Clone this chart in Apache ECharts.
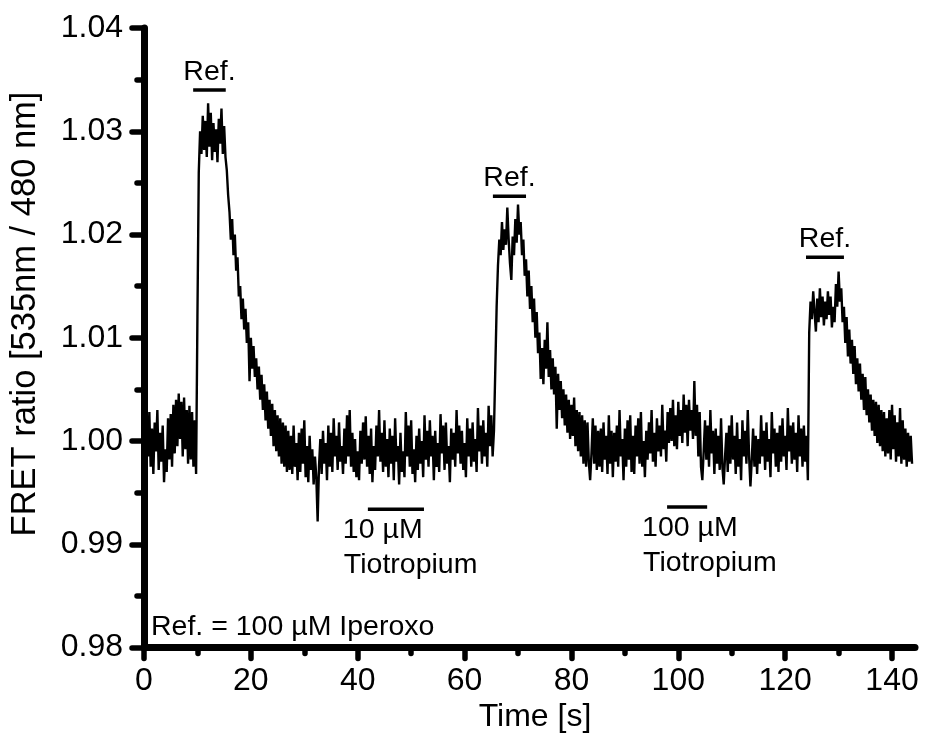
<!DOCTYPE html>
<html><head><meta charset="utf-8">
<script src="https://cdn.jsdelivr.net/npm/echarts@6/dist/echarts.min.js"></script>
<style>html,body{margin:0;padding:0;background:#fff}#c{width:925px;height:745px}</style>
</head><body><div id="c"></div>
<script>
// ---- tick values ----
const xMajorTicks = [0, 20, 40, 60, 80, 100, 120, 140];
const xMinorTicks = [10, 30, 50, 70, 90, 110, 130];

// ---- FRET ratio trace [time s, ratio] ----
const pre1 = [[0,1.0002],[0.25,0.9978],[0.5,1.0020],[0.75,0.9985],[1,1.0028],[1.25,0.9975],[1.5,1.0012],[1.75,0.9968],[2,1.0018],[2.25,0.9990],[2.5,1.0030],[2.75,0.9972],[3,1.0008],[3.25,0.9980],[3.5,1.0015],[3.75,0.9960],[4,0.9992],[4.25,0.9970],[4.5,1.0022],[4.75,0.9982],[5,1.0026],[5.25,0.9975],[5.5,1.0035],[5.75,0.9988],[6,1.0040],[6.25,0.9995],[6.5,1.0046],[6.75,1.0002],[7,1.0038],[7.25,0.9985],[7.5,1.0042],[7.75,0.9992],[8,1.0030],[8.25,0.9978],[8.5,1.0034],[8.75,0.9982],[9,1.0028],[9.25,0.9975],[9.5,1.0020],[9.75,0.9968]];
const peak1 = [[10,1.0120],[10.25,1.0260],[10.5,1.0300],[10.75,1.0278],[11,1.0315],[11.25,1.0282],[11.5,1.0310],[11.75,1.0275],[12,1.0327],[12.25,1.0285],[12.5,1.0318],[12.75,1.0272],[13,1.0308],[13.25,1.0280],[13.5,1.0302],[13.75,1.0270],[14,1.0312],[14.25,1.0288],[14.5,1.0322],[14.75,1.0278],[15,1.0305],[15.25,1.0275],[15.5,1.0262],[15.75,1.0238],[16,1.0222],[16.25,1.0195],[16.5,1.0215],[16.75,1.0180],[17,1.0200],[17.25,1.0165],[17.5,1.0178],[17.75,1.0140],[18,1.0150],[18.25,1.0118],[18.5,1.0138],[18.75,1.0108],[19,1.0128],[19.25,1.0095],[19.5,1.0115],[19.75,1.0058],[20,1.0100],[20.25,1.0070],[20.5,1.0092],[20.75,1.0062],[21,1.0080],[21.25,1.0050],[21.5,1.0072],[21.75,1.0040],[22,1.0064],[22.25,1.0030],[22.5,1.0055],[22.75,1.0020],[23,1.0048],[23.25,1.0012],[23.5,1.0040],[23.75,1.0005],[24,1.0036],[24.25,0.9995],[24.5,1.0030],[24.75,0.9990],[25,1.0025],[25.25,0.9985],[25.5,1.0022],[25.75,0.9978],[26,1.0018],[26.25,0.9975],[26.5,1.0015],[26.75,0.9970]];
const base1 = [[27,1.0010],[27.25,0.9972],[27.5,1.0005],[27.75,0.9968],[28,1.0015],[28.25,0.9975],[28.5,0.9998],[28.75,0.9962],[29,1.0008],[29.25,0.9970],[29.5,1.0012],[29.75,0.9978],[30,1.0020],[30.25,0.9965],[30.5,0.9995],[30.75,0.9960],[31,1.0005],[31.25,0.9972],[31.5,0.9992],[31.75,0.9958],[32,0.9985],[32.25,0.9965],[32.5,0.9922],[32.75,0.9975],[33,1.0002],[33.25,0.9968],[33.5,1.0010],[33.75,0.9978],[34,0.9998],[34.25,0.9962],[34.5,1.0015],[34.75,0.9975],[35,1.0008],[35.25,0.9970],[35.5,1.0022],[35.75,0.9985],[36,1.0005],[36.25,0.9972],[36.5,1.0018],[36.75,0.9980],[37,0.9995],[37.25,0.9968],[37.5,1.0012],[37.75,0.9978],[38,1.0025],[38.25,0.9985],[38.5,1.0030],[38.75,0.9975],[39,1.0008],[39.25,0.9970],[39.5,1.0002],[39.75,0.9965],[40,0.9990],[40.25,0.9962],[40.5,1.0010],[40.75,0.9978],[41,1.0018],[41.25,0.9982],[41.5,1.0024],[41.75,0.9975],[42,1.0005],[42.25,0.9968],[42.5,1.0012],[42.75,0.9960],[43,0.9995],[43.25,0.9972],[43.5,1.0015],[43.75,0.9985],[44,1.0030],[44.25,0.9980],[44.5,1.0008],[44.75,0.9970],[45,1.0020],[45.25,0.9975],[45.5,1.0002],[45.75,0.9965],[46,1.0012],[46.25,0.9978],[46.5,1.0005],[46.75,0.9962],[47,1.0022],[47.25,0.9980],[47.5,0.9995],[47.75,0.9958],[48,1.0008],[48.25,0.9970],[48.5,0.9990],[48.75,0.9965],[49,1.0028],[49.25,0.9985],[49.5,1.0015],[49.75,0.9975],[50,1.0020],[50.25,0.9968],[50.5,0.9992],[50.75,0.9960],[51,1.0005],[51.25,0.9972],[51.5,1.0012],[51.75,0.9978],[52,1.0000],[52.25,0.9965],[52.5,1.0025],[52.75,0.9982],[53,1.0010],[53.25,0.9975],[53.5,1.0020],[53.75,0.9985],[54,1.0005],[54.25,0.9962],[54.5,1.0010],[54.75,0.9975],[55,0.9998],[55.25,0.9970],[55.5,1.0026],[55.75,0.9988],[56,1.0015],[56.25,0.9972],[56.5,1.0018],[56.75,0.9978],[57,0.9995],[57.25,0.9960],[57.5,1.0012],[57.75,0.9982],[58,1.0008],[58.25,0.9975],[58.5,1.0030],[58.75,0.9988],[59,1.0015],[59.25,0.9978],[59.5,1.0010],[59.75,0.9972],[60,0.9998],[60.25,0.9965],[60.5,1.0022],[60.75,0.9985],[61,1.0012],[61.25,0.9975],[61.5,1.0018],[61.75,0.9980],[62,1.0002],[62.25,0.9970],[62.5,1.0032],[62.75,0.9990],[63,1.0015],[63.25,0.9978],[63.5,1.0020],[63.75,0.9985],[64,1.0008],[64.25,0.9975],[64.5,1.0034],[64.75,0.9995],[65,1.0025],[65.25,0.9985]];
const peak2 = [[65.5,1.0010],[65.75,1.0070],[66,1.0130],[66.25,1.0170],[66.5,1.0195],[66.75,1.0180],[67,1.0212],[67.25,1.0185],[67.5,1.0205],[67.75,1.0190],[68,1.0226],[68.25,1.0195],[68.5,1.0172],[68.75,1.0156],[69,1.0198],[69.25,1.0180],[69.5,1.0215],[69.75,1.0192],[70,1.0229],[70.25,1.0200],[70.5,1.0212],[70.75,1.0180],[71,1.0195],[71.25,1.0160],[71.5,1.0176],[71.75,1.0140],[72,1.0165],[72.25,1.0128],[72.5,1.0150],[72.75,1.0115],[73,1.0138],[73.25,1.0100],[73.5,1.0125],[73.75,1.0085],[74,1.0105],[74.25,1.0060],[74.5,1.0090],[74.75,1.0055],[75,1.0098],[75.25,1.0070],[75.5,1.0115],[75.75,1.0062],[76,1.0088],[76.25,1.0050],[76.5,1.0080],[76.75,1.0045],[77,1.0072],[77.25,1.0012],[77.5,1.0065],[77.75,1.0030],[78,1.0058],[78.25,1.0022],[78.5,1.0050],[78.75,1.0015],[79,1.0045],[79.25,1.0008],[79.5,1.0040],[79.75,1.0002],[80,1.0035],[80.25,1.0005],[80.5,1.0042],[80.75,0.9995],[81,1.0030],[81.25,0.9990],[81.5,1.0028],[81.75,0.9985],[82,1.0025],[82.25,0.9978],[82.5,1.0020],[82.75,0.9975],[83,1.0018],[83.25,0.9980],[83.5,0.9962],[83.75,0.9988],[84,1.0022],[84.25,0.9978],[84.5,1.0015],[84.75,0.9972],[85,1.0010],[85.25,0.9975]];
const base2 = [[85.5,1.0012],[85.75,0.9970],[86,1.0018],[86.25,0.9982],[86.5,1.0005],[86.75,0.9968],[87,1.0025],[87.25,0.9978],[87.5,1.0010],[87.75,0.9965],[88,1.0008],[88.25,0.9980],[88.5,1.0015],[88.75,0.9975],[89,1.0030],[89.25,0.9985],[89.5,1.0002],[89.75,0.9962],[90,1.0012],[90.25,0.9975],[90.5,1.0020],[90.75,0.9982],[91,1.0025],[91.25,0.9970],[91.5,1.0005],[91.75,0.9968],[92,1.0015],[92.25,0.9985],[92.5,1.0022],[92.75,0.9978],[93,1.0028],[93.25,0.9975],[93.5,1.0000],[93.75,0.9965],[94,1.0010],[94.25,0.9982],[94.5,1.0018],[94.75,0.9988],[95,1.0030],[95.25,0.9980],[95.5,1.0008],[95.75,0.9975],[96,1.0022],[96.25,0.9990],[96.5,1.0015],[96.75,0.9985],[97,1.0035],[97.25,0.9992],[97.5,1.0010],[97.75,0.9980],[98,1.0028],[98.25,0.9998],[98.5,1.0032],[98.75,1.0000],[99,1.0040],[99.25,0.9995],[99.5,1.0025],[99.75,0.9992],[100,1.0038],[100.25,1.0005],[100.5,1.0030],[100.75,0.9998],[101,1.0045],[101.25,1.0008],[101.5,1.0035],[101.75,0.9995],[102,1.0040],[102.25,1.0010],[102.5,1.0030],[102.75,1.0002],[103,1.0058],[103.25,1.0005],[103.5,1.0035],[103.75,0.9985],[104,1.0028],[104.25,0.9975],[104.5,0.9962],[104.75,0.9990],[105,1.0020],[105.25,0.9982],[105.5,1.0015],[105.75,0.9975],[106,1.0030],[106.25,0.9988],[106.5,1.0010],[106.75,0.9968],[107,1.0012],[107.25,0.9978],[107.5,1.0005],[107.75,0.9972],[108,1.0022],[108.25,0.9975],[108.5,0.9958],[108.75,0.9985],[109,1.0008],[109.25,0.9970],[109.5,1.0015],[109.75,0.9978],[110,1.0025],[110.25,0.9982],[110.5,1.0005],[110.75,0.9968],[111,1.0018],[111.25,0.9975],[111.5,1.0002],[111.75,0.9962],[112,1.0020],[112.25,0.9985],[112.5,1.0010],[112.75,0.9978],[113,1.0030],[113.25,0.9985],[113.5,0.9956],[113.75,0.9982],[114,1.0012],[114.25,0.9975],[114.5,1.0005],[114.75,0.9968],[115,1.0002],[115.25,0.9978],[115.5,1.0025],[115.75,0.9985],[116,1.0010],[116.25,0.9972],[116.5,1.0018],[116.75,0.9980],[117,1.0002],[117.25,0.9965],[117.5,1.0028],[117.75,0.9988],[118,1.0012],[118.25,0.9975],[118.5,1.0008],[118.75,0.9970],[119,1.0015],[119.25,0.9980],[119.5,1.0022],[119.75,0.9985],[120,1.0005],[120.25,0.9972],[120.5,1.0032],[120.75,0.9990],[121,1.0015],[121.25,0.9978],[121.5,1.0018],[121.75,0.9982],[122,1.0008],[122.25,0.9970],[122.5,1.0025],[122.75,0.9985],[123,1.0012],[123.25,0.9975],[123.5,1.0015],[123.75,0.9980],[124,1.0005],[124.25,0.9962]];
const peak3 = [[124.5,1.0105],[124.75,1.0135],[125,1.0118],[125.25,1.0145],[125.5,1.0125],[125.75,1.0106],[126,1.0138],[126.25,1.0115],[126.5,1.0148],[126.75,1.0120],[127,1.0140],[127.25,1.0112],[127.5,1.0135],[127.75,1.0118],[128,1.0145],[128.25,1.0122],[128.5,1.0140],[128.75,1.0110],[129,1.0130],[129.25,1.0115],[129.5,1.0152],[129.75,1.0130],[130,1.0164],[130.25,1.0135],[130.5,1.0148],[130.75,1.0115],[131,1.0130],[131.25,1.0095],[131.5,1.0120],[131.75,1.0082],[132,1.0108],[132.25,1.0075],[132.5,1.0098],[132.75,1.0065],[133,1.0092],[133.25,1.0055],[133.5,1.0080],[133.75,1.0048],[134,1.0075],[134.25,1.0040],[134.5,1.0065],[134.75,1.0030],[135,1.0062],[135.25,1.0025],[135.5,1.0050],[135.75,1.0018],[136,1.0045],[136.25,1.0010],[136.5,1.0040],[136.75,1.0005],[137,1.0038],[137.25,0.9998],[137.5,1.0035],[137.75,0.9995],[138,1.0030],[138.25,0.9990],[138.5,1.0028],[138.75,0.9985],[139,1.0022],[139.25,0.9988],[139.5,1.0030],[139.75,0.9982],[140,1.0035],[140.25,0.9992],[140.5,1.0025],[140.75,0.9980],[141,1.0018],[141.25,0.9985],[141.5,1.0032],[141.75,0.9978],[142,1.0020],[142.25,0.9982],[142.5,1.0012],[142.75,0.9975],[143,1.0008],[143.25,0.9980],[143.5,1.0005],[143.75,0.9978]];

// ---- application bars [start s, end s, ratio level] and labels ----
const refBars = [[9.2, 15.3, 1.0340], [65.3, 71.5, 1.0237], [123.9, 131.0, 1.0178]];
const drugBars = [[41.9, 52.4, 0.9934], [97.9, 105.4, 0.9936]];
const drugLabels = [['10 µM', 'Tiotropium'], ['100 µM', 'Tiotropium']];
const refLabel = 'Ref.';
const noteText = 'Ref. = 100 µM Iperoxo';
const xTitle = 'Time [s]';
const yTitle = 'FRET ratio [535nm / 480 nm]';

const trace = pre1.concat(peak1, base1, peak2, base2, peak3);

const FONT = '"Liberation Sans", Arial, sans-serif';
const chart = echarts.init(document.getElementById('c'), null, {renderer: 'canvas'});
const tickStyle = {color: '#000', width: 5.5, cap: 'round'};

const series = [{
  type: 'line', data: trace, showSymbol: false, symbol: 'none',
  lineStyle: {color: '#000', width: 2.4}, silent: true, z: 3
}];
refBars.concat(drugBars).forEach(b => {
  series.push({type: 'line', data: [[b[0], b[2]], [b[1], b[2]]], symbol: 'none', silent: true,
    lineStyle: {color: '#000', width: 3.5}});
});

chart.setOption({
  animation: false,
  grid: {left: 144, top: 28, width: 771, height: 619.5},
  xAxis: [{
    type: 'value', min: 0, max: 144.3, position: 'bottom',
    axisLine: {show: true, onZero: false, lineStyle: {color: '#000', width: 7, cap: 'round'}},
    axisTick: {show: true, length: 11, customValues: xMajorTicks, lineStyle: tickStyle},
    axisLabel: {customValues: xMajorTicks, margin: 18, color: '#000', fontSize: 32, fontFamily: FONT},
    splitLine: {show: false}
  }, {
    type: 'value', min: 0, max: 144.3, position: 'bottom',
    axisLine: {show: false}, axisLabel: {show: false}, splitLine: {show: false},
    axisTick: {show: true, length: 6, customValues: xMinorTicks, lineStyle: tickStyle}
  }],
  yAxis: {
    type: 'value', min: 0.98, max: 1.04, interval: 0.01,
    axisLine: {show: true, onZero: false, lineStyle: {color: '#000', width: 7, cap: 'round'}},
    axisTick: {show: true, length: 12, lineStyle: tickStyle},
    minorTick: {show: true, splitNumber: 2, length: 7, lineStyle: tickStyle},
    axisLabel: {margin: 21, color: '#000', fontSize: 32, fontFamily: FONT,
      formatter: v => v.toFixed(2)},
    splitLine: {show: false}
  },
  series: series
});

const px = p => chart.convertToPixel({seriesIndex: 0}, p);
const txt = (text, x, y, size, align, extra) => Object.assign({
  type: 'text', x: x, y: y, silent: true,
  style: {text: text, fill: '#000', font: size + 'px ' + FONT, textAlign: align, textVerticalAlign: 'middle'}
}, extra || {});

const graphics = [];
refBars.forEach(b => {
  const a = px([(b[0] + b[1]) / 2, b[2]]);
  graphics.push(txt(refLabel, a[0], a[1] - 18, 28.5, 'center'));
});
drugBars.forEach((b, i) => {
  const a = px([b[0], b[2]]);
  graphics.push(txt(drugLabels[i][0], a[0] - 25, a[1] + 21, 28.5, 'left'));
  graphics.push(txt(drugLabels[i][1], a[0] - 24, a[1] + 56, 28.5, 'left'));
});
graphics.push(txt(noteText, 151, 627, 28.5, 'left'));
graphics.push(txt(xTitle, 535, 717, 32, 'center'));
graphics.push(txt(yTitle, 25, 314, 34.5, 'center', {rotation: Math.PI / 2}));
chart.setOption({graphic: graphics});
</script></body></html>
